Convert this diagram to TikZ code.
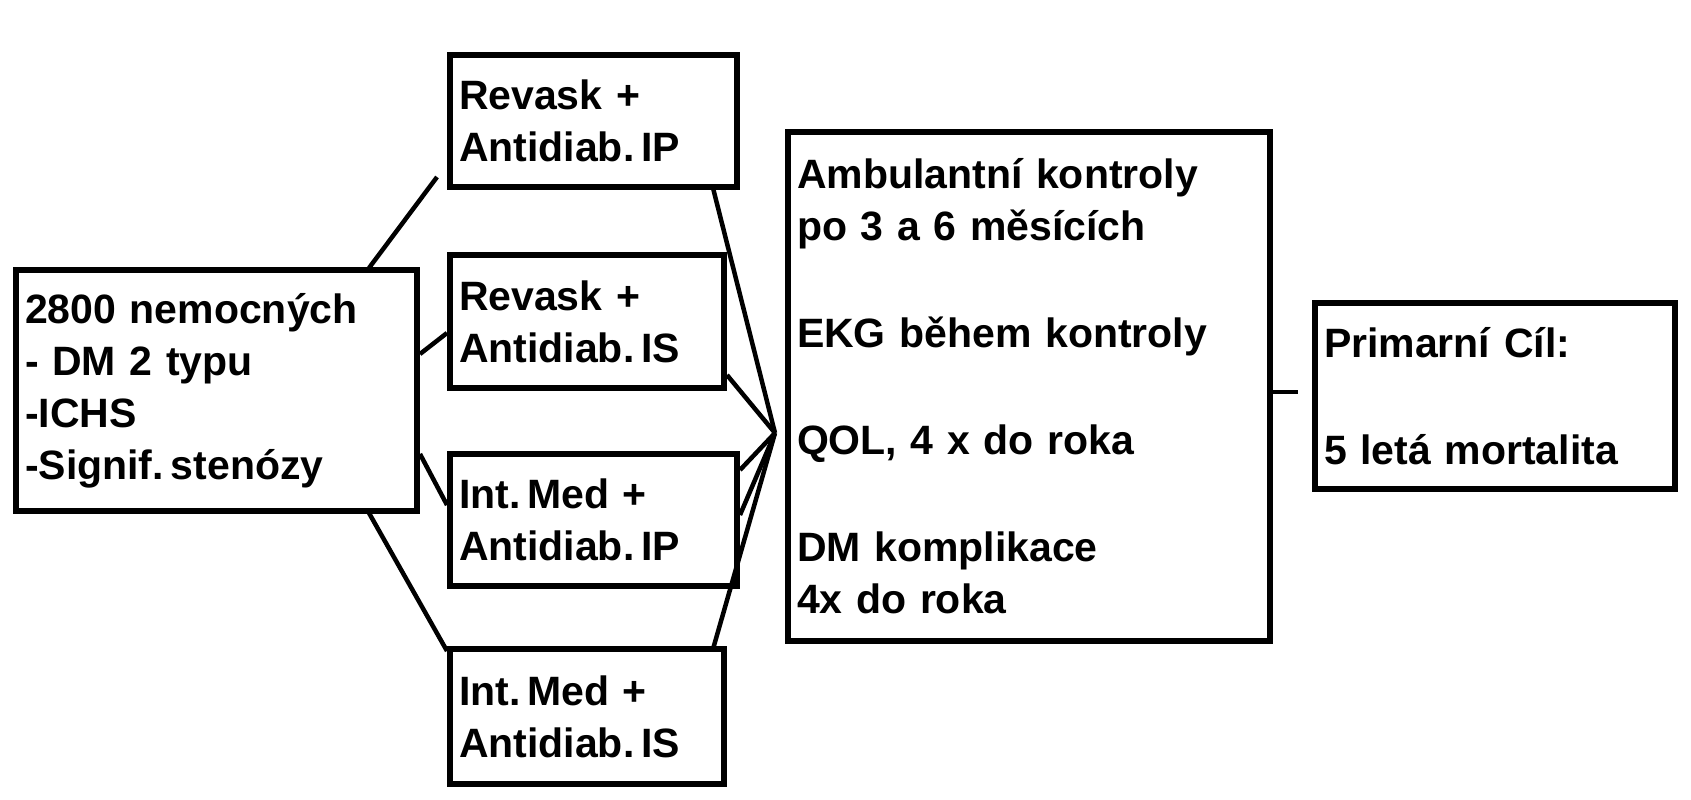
\documentclass[tikz,border=0pt]{standalone}
\usepackage{fontspec}
\setmainfont{Liberation Sans}
\begin{document}
\begin{tikzpicture}[x=1pt,y=-1pt,line width=6pt,
  box/.style={draw,align=left,inner sep=0pt,font=\bfseries\fontsize{41}{52}\selectfont},
  link/.style={line width=4.5pt}]
  \useasboundingbox (0,0) rectangle (1691,800);
  % boxes
  \node[box,minimum width=401,minimum height=241,text width=383] (pat) at (216.5,390.5)
      {2800 nemocných\\- DM 2 typu\\-ICHS\\-Signif.\,stenózy};
  \node[box,minimum width=287,minimum height=132,text width=269] (ra) at (593.5,121)
      {Revask +\\Antidiab.\,IP};
  \node[box,minimum width=274,minimum height=133,text width=256] (rb) at (587,321.5)
      {Revask +\\Antidiab.\,IS};
  \node[box,minimum width=287,minimum height=132,text width=269] (ma) at (593.5,520)
      {Int.\,Med +\\Antidiab.\,IP};
  \node[box,minimum width=274,minimum height=135,text width=256] (mb) at (587,716.5)
      {Int.\,Med +\\Antidiab.\,IS};
  \node[box,minimum width=482,minimum height=509,text width=464] (amb) at (1029,386.5)
      {Ambulantní kontroly\\po 3 a 6 měsících\\[55pt]EKG během kontroly\\[55pt]QOL, 4 x do roka\\[55pt]DM komplikace\\4x do roka};
  \node[box,minimum width=360,minimum height=186,text width=342] (goal) at (1495,396)
      {Primarní Cíl:\\[55pt]5 letá mortalita};
  % connectors
  \coordinate (join) at (775,433);
  \coordinate (ta) at (437,177);
  \coordinate (gap) at (1298,392);
  \draw[link] (369,268) -- (ta);
  \draw[link] (pat.east |- 0,354) -- (rb.west |- 0,333);
  \draw[link] (pat.east |- 0,454) -- (ma.west |- 0,505);
  \draw[link] (369,513) -- (ma.west |- 0,651);
  \draw[link] (713,188) -- (join);
  \draw[link] (rb.east |- 0,375) -- (join);
  \draw[link] (ma.east |- 0,470) -- (join);
  \draw[link] (ma.east |- 0,515) -- (join);
  \draw[link] (713,649) -- (join);
  \draw[link] (amb.east |- gap) -- (gap);
\end{tikzpicture}
\end{document}
